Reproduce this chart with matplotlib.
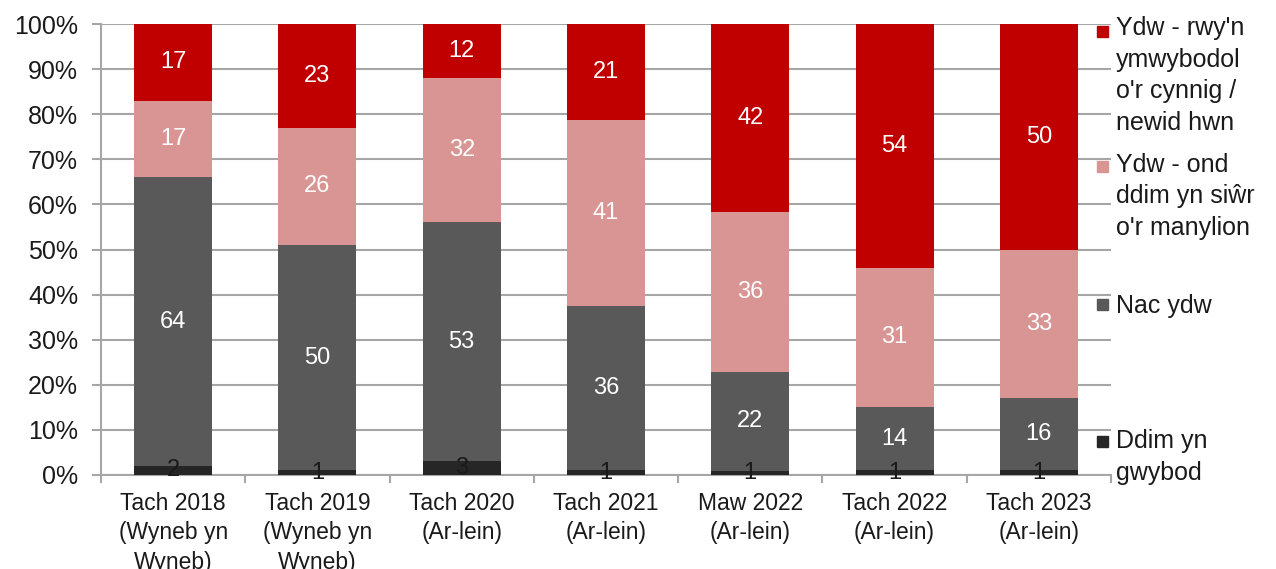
import matplotlib
matplotlib.use("Agg")
import matplotlib.pyplot as plt
import numpy as np

plt.rcParams['font.family'] = ['Liberation Sans', 'DejaVu Sans']

# Data (percent of respondents)
categories = ["Tach 2018\n(Wyneb yn\nWyneb)", "Tach 2019\n(Wyneb yn\nWyneb)",
              "Tach 2020\n(Ar-lein)", "Tach 2021\n(Ar-lein)", "Maw 2022\n(Ar-lein)",
              "Tach 2022\n(Ar-lein)", "Tach 2023\n(Ar-lein)"]
ddim_gwybod = [2, 1, 3, 1, 1, 1, 1]
nac_ydw = [64, 50, 53, 36, 22, 14, 16]
ydw_ond = [17, 26, 32, 41, 36, 31, 33]
ydw_rwyn = [17, 23, 12, 21, 42, 54, 50]

series_names = ["Ddim yn\ngwybod", "Nac ydw", "Ydw - ond\nddim yn siŵr\no'r manylion",
                "Ydw - rwy'n\nymwybodol\no'r cynnig /\nnewid hwn"]
colors = ["#262626", "#595959", "#D99594", "#C00000"]
label_colors = ["#1a1a1a", "white", "white", "white"]

series = np.array([ddim_gwybod, nac_ydw, ydw_ond, ydw_rwyn], dtype=float)
shares = series / series.sum(axis=0) * 100  # 100% stacked

fig = plt.figure(figsize=(12.76, 5.69), dpi=100)
ax = fig.add_axes([101 / 1276, 1 - 475 / 569, 1010 / 1276, 451 / 569])

x = np.arange(len(categories))
bottom = np.zeros(len(categories))
for vals, raw, col, lcol in zip(shares, series, colors, label_colors):
    ax.bar(x, vals, bottom=bottom, width=0.54, color=col, zorder=3)
    for xi, b, v, r in zip(x, bottom, vals, raw):
        ax.text(xi, b + v / 2, f"{int(r)}", ha="center", va="center",
                color=lcol, fontsize=17, zorder=4)
    bottom += vals

ax.set_xlim(-0.5, len(categories) - 0.5)
ax.set_ylim(0, 100)
ax.set_yticks(np.arange(0, 101, 10))
ax.set_yticklabels([f"{v}%" for v in range(0, 101, 10)], fontsize=18, color="#1a1a1a")
ax.yaxis.grid(True, color="#a6a6a6", linewidth=1.5, zorder=0)
ax.tick_params(axis="y", length=6.5, color="#a6a6a6", width=1.5, pad=10)

ax.set_xticks(x)
ax.set_xticklabels(categories, fontsize=16.5, color="#1a1a1a", linespacing=1.36)
ax.set_xticks(np.arange(-0.5, len(categories), 1), minor=True)
ax.tick_params(axis="x", which="major", length=0, pad=12)
ax.tick_params(axis="x", which="minor", length=6, color="#a6a6a6", width=1.5)

for side in ["top", "right"]:
    ax.spines[side].set_visible(False)
for side in ["left", "bottom"]:
    ax.spines[side].set_color("#a6a6a6")
    ax.spines[side].set_linewidth(1.5)

# Legend drawn by hand to mimic Excel's spacing (first-line baselines in px)
legend_base = [40, 175, 313, 450]
line_px = 30
for name, col, yy in zip(series_names[::-1], colors[::-1], legend_base):
    fy = 1 - yy / 569
    n_lines = name.count("\n") + 1
    fig.patches.append(plt.Rectangle((1097 / 1276, fy + 3 / 569), 11 / 1276, 11 / 569,
                                     transform=fig.transFigure, color=col, zorder=5))
    # va='baseline' pins the last line, so shift down by the extra lines
    fig.text(1116 / 1276, fy - (n_lines - 1) * line_px / 569, name, ha="left",
             va="baseline", fontsize=18, color="#1a1a1a", linespacing=1.4)

fig.savefig("out.png", dpi=100)
